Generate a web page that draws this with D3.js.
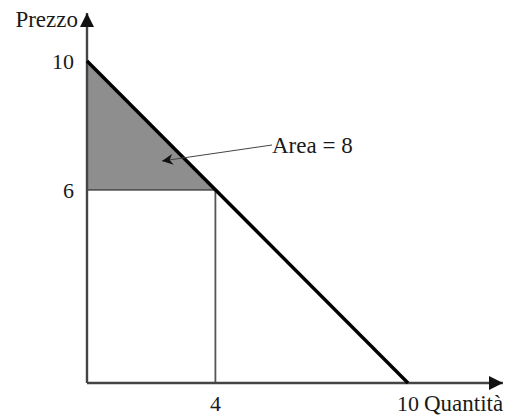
<!DOCTYPE html>
<html>
<head>
<meta charset="utf-8">
<script src="https://cdn.jsdelivr.net/npm/d3@7"></script>
<style>
  body { margin: 0; background: #fff; }
  text { font-family: "Liberation Serif", "Times New Roman", serif; fill: #1a1a1a; }
</style>
</head>
<body>
<svg id="chart" width="514" height="416"></svg>
<script>
// demand curve endpoints (quantity, price)
const demandLine = [[0, 10], [10, 0]];
// equilibrium point
const point = { q: 4, p: 6 };
const xTicks = [4, 10];
const yTicks = [6, 10];
const areaLabel = "Area = 8";
const xLabel = "Quantità";
const yLabel = "Prezzo";

const svg = d3.select("#chart");

const x = d3.scaleLinear().domain([0, 10]).range([87, 408]);
const y = d3.scaleLinear().domain([0, 10]).range([383, 61]);

// arrow markers
const defs = svg.append("defs");
defs.append("marker")
    .attr("id", "axisArrow")
    .attr("viewBox", "0 0 10 10")
    .attr("refX", 10).attr("refY", 5)
    .attr("markerWidth", 16).attr("markerHeight", 14)
    .attr("markerUnits", "userSpaceOnUse")
    .attr("orient", "auto")
    .append("path").attr("d", "M0,0 L10,5 L0,10 Z").attr("fill", "#111");
defs.append("marker")
    .attr("id", "noteArrow")
    .attr("viewBox", "0 0 10 10")
    .attr("refX", 10).attr("refY", 5)
    .attr("markerWidth", 14).attr("markerHeight", 11)
    .attr("markerUnits", "userSpaceOnUse")
    .attr("orient", "auto")
    .append("path").attr("d", "M0,0 L10,5 L0,10 L3,5 Z").attr("fill", "#111");

// shaded triangle (consumer surplus)
svg.append("path")
    .attr("d", d3.line()([[x(0), y(10)], [x(point.q), y(point.p)], [x(0), y(point.p)]]))
    .attr("fill", "#8e8e8e");

// rectangle lines
svg.append("path")
    .attr("d", d3.line()([[x(0), y(point.p)], [x(point.q), y(point.p)], [x(point.q), y(0)]]))
    .attr("fill", "none")
    .attr("stroke", "#555")
    .attr("stroke-width", 1.8);

// axes
svg.append("line")
    .attr("x1", x(0)).attr("y1", y(0))
    .attr("x2", 503).attr("y2", y(0))
    .attr("stroke", "#444").attr("stroke-width", 2.4)
    .attr("marker-end", "url(#axisArrow)");
svg.append("line")
    .attr("x1", x(0)).attr("y1", y(0))
    .attr("x2", x(0)).attr("y2", 13)
    .attr("stroke", "#444").attr("stroke-width", 2.4)
    .attr("marker-end", "url(#axisArrow)");

// demand line
svg.append("path")
    .attr("d", d3.line().x(d => x(d[0])).y(d => y(d[1]))(demandLine))
    .attr("fill", "none")
    .attr("stroke", "#000")
    .attr("stroke-width", 3.4);

// tick labels
svg.selectAll(".ytick").data(yTicks).join("text")
    .attr("class", "ytick")
    .attr("x", 74)
    .attr("y", d => y(d) + 8)
    .attr("text-anchor", "end")
    .style("font-size", "22px")
    .text(d => d);

svg.selectAll(".xtick").data(xTicks).join("text")
    .attr("class", "xtick")
    .attr("x", d => x(d))
    .attr("y", 411)
    .attr("text-anchor", "middle")
    .style("font-size", "22px")
    .text(d => d);

svg.append("text")
    .attr("x", x(10) + 16)
    .attr("y", 411)
    .style("font-size", "23px")
    .text(xLabel);

svg.append("text")
    .attr("x", 78)
    .attr("y", 27)
    .attr("text-anchor", "end")
    .style("font-size", "23px")
    .text(yLabel);

// annotation
svg.append("line")
    .attr("x1", 272).attr("y1", 145)
    .attr("x2", 162).attr("y2", 161)
    .attr("stroke", "#444").attr("stroke-width", 1)
    .attr("marker-end", "url(#noteArrow)");

svg.append("text")
    .attr("x", 272)
    .attr("y", 153)
    .style("font-size", "23px")
    .text(areaLabel);
</script>
</body>
</html>
